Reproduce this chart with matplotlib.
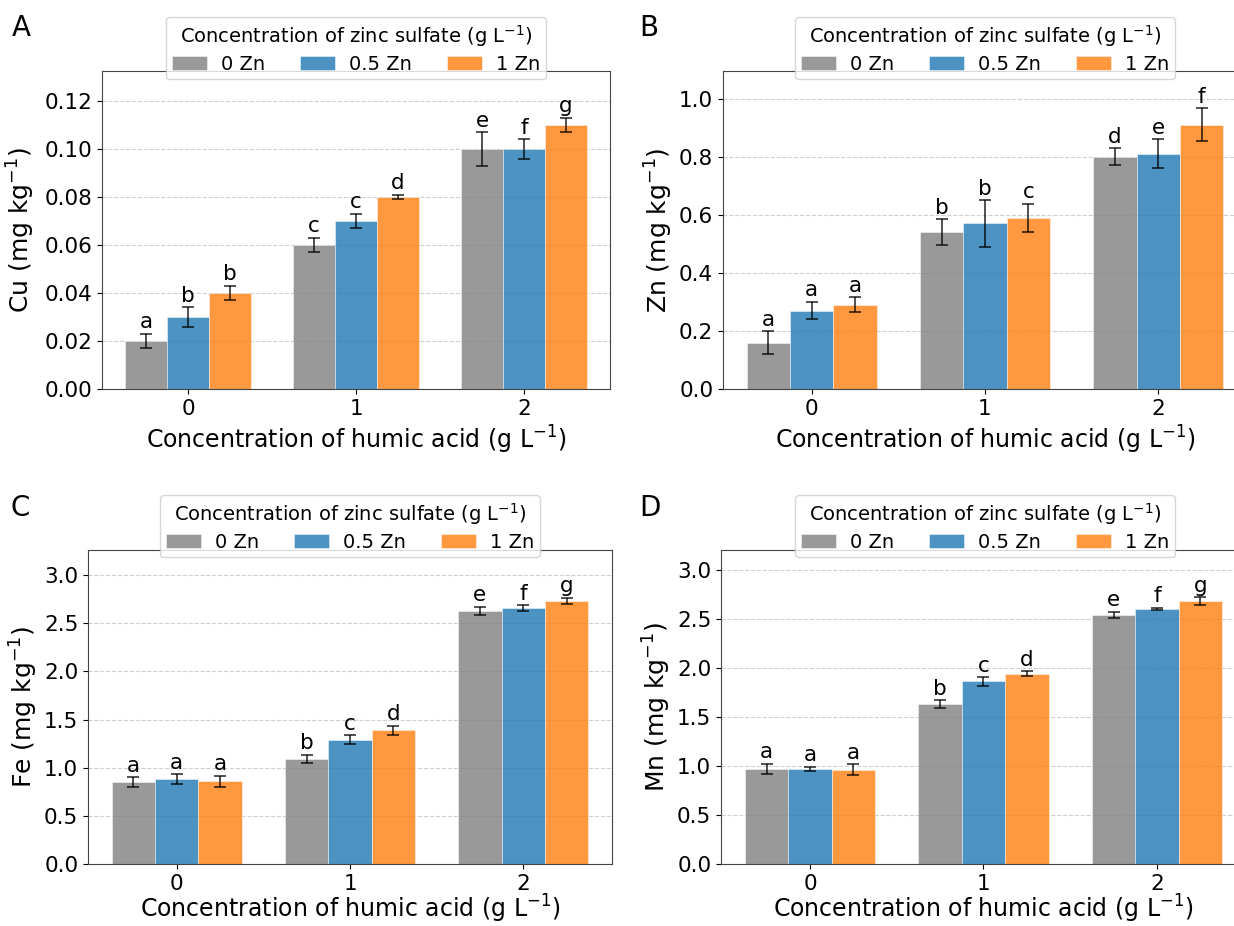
import matplotlib
matplotlib.use("Agg")
import matplotlib.pyplot as plt
import numpy as np

humic = ['0', '1', '2']
zinc_labels = ['0 Zn', '0.5 Zn', '1 Zn']
colors = ['gray', 'tab:blue', 'tab:orange']

# rows: 0 Zn, 0.5 Zn, 1 Zn ; columns: humic acid 0, 1, 2
cu_mean = [[0.02, 0.06, 0.10], [0.03, 0.07, 0.10], [0.04, 0.08, 0.11]]
cu_err = [[0.003, 0.003, 0.007], [0.004, 0.003, 0.004], [0.003, 0.001, 0.003]]
cu_letters = [['a', 'c', 'e'], ['b', 'c', 'f'], ['b', 'd', 'g']]

zn_mean = [[0.16, 0.54, 0.80], [0.27, 0.57, 0.81], [0.29, 0.59, 0.91]]
zn_err = [[0.04, 0.045, 0.03], [0.03, 0.08, 0.05], [0.026, 0.048, 0.057]]
zn_letters = [['a', 'b', 'd'], ['a', 'b', 'e'], ['a', 'c', 'f']]

fe_mean = [[0.85, 1.09, 2.63], [0.88, 1.29, 2.66], [0.86, 1.39, 2.73]]
fe_err = [[0.05, 0.046, 0.04], [0.05, 0.046, 0.03], [0.058, 0.046, 0.034]]
fe_letters = [['a', 'b', 'e'], ['a', 'c', 'f'], ['a', 'd', 'g']]

mn_mean = [[0.97, 1.63, 2.54], [0.97, 1.86, 2.60], [0.96, 1.94, 2.68]]
mn_err = [[0.052, 0.037, 0.032], [0.022, 0.044, 0.012], [0.056, 0.024, 0.04]]
mn_letters = [['a', 'b', 'e'], ['a', 'c', 'f'], ['a', 'd', 'g']]

W = 1234
H = 926


def px_axes(fig, left, top, right, bottom):
    return fig.add_axes([left / W, 1 - bottom / H, (right - left) / W, (bottom - top) / H])


def draw_panel(fig, box, means, errs, letters, ylabel, ylim, ylabelpad, xlabelpad,
               legend_x, legend_top, tag, tag_x, tag_y):
    ax = px_axes(fig, *box)
    x = np.arange(len(humic))
    width = 0.25
    handles = []
    for i in range(len(zinc_labels)):
        pos = x + (i - 1) * width
        bars = ax.bar(pos, means[i], width, yerr=errs[i], color=colors[i], alpha=0.8,
                      edgecolor='white', linewidth=0.4,
                      error_kw=dict(ecolor='black', capsize=4, elinewidth=1.2, capthick=1.2, alpha=0.8),
                      label=zinc_labels[i])
        handles.append(bars)
        for j in range(len(humic)):
            ax.annotate(letters[i][j], (pos[j], means[i][j] + errs[i][j]),
                        xytext=(0, 1), textcoords='offset points',
                        ha='center', va='bottom', fontsize=15.5)

    ax.set_xticks(x)
    ax.set_xticklabels(humic)
    ax.set_xlim(-0.5125, 2.5125)
    ax.set_ylim(*ylim)
    ax.tick_params(labelsize=15.5)
    ax.set_xlabel('Concentration of humic acid (g L$^{-1}$)', fontsize=17, labelpad=xlabelpad)
    ax.set_ylabel(ylabel, fontsize=18, labelpad=ylabelpad)
    ax.yaxis.grid(True, linestyle='--', color='#bbbbbb', alpha=0.7)
    ax.set_axisbelow(True)
    for s in ax.spines.values():
        s.set_color('#444444')

    fig.legend(handles=handles, title='Concentration of zinc sulfate (g L$^{-1}$)',
               loc='upper center', bbox_to_anchor=(legend_x / W, 1 - legend_top / H),
               ncol=3, fontsize=14, title_fontsize=14, handlelength=1.8,
               handletextpad=0.72, columnspacing=1.8, borderaxespad=0, borderpad=0.3,
               labelspacing=0.3)

    fig.text(tag_x / W, 1 - tag_y / H, tag, fontsize=20, va='top', ha='left')
    return ax


fig = plt.figure(figsize=(W / 100, H / 100), dpi=100)

draw_panel(fig, (102, 71, 610, 389), cu_mean, cu_err, cu_letters,
           'Cu (mg kg$^{-1}$)', (0, 0.1325), 5, 4, 356, 17, 'A', 12, 14)
draw_panel(fig, (723, 71, 1247, 389), zn_mean, zn_err, zn_letters,
           'Zn (mg kg$^{-1}$)', (0, 1.095), 3, 4, 985, 17, 'B', 639, 14)
draw_panel(fig, (88, 550, 612, 864), fe_mean, fe_err, fe_letters,
           'Fe (mg kg$^{-1}$)', (0, 3.26), 3, -1, 350, 495, 'C', 11, 494)
draw_panel(fig, (721, 550, 1246, 864), mn_mean, mn_err, mn_letters,
           'Mn (mg kg$^{-1}$)', (0, 3.20), 3, -1, 985, 495, 'D', 639, 494)

fig.savefig('out.png', dpi=100)
